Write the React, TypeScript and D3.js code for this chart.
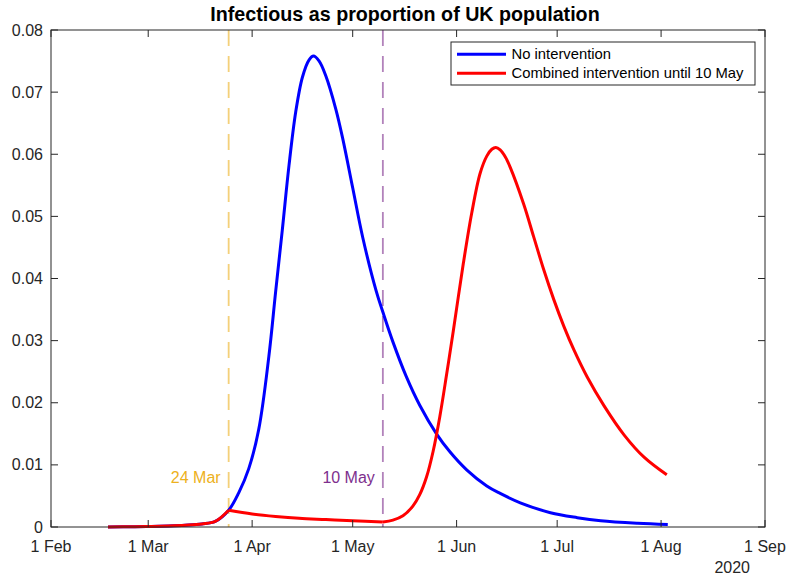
import React from "react";
import * as d3 from "d3";

// days since 1 Feb 2020 and proportion infectious
const blueDays = [17, 25, 30, 35, 40, 45, 49, 53, 56, 59, 62, 65, 67, 69, 71, 73, 75, 77, 78.3, 80, 82, 85, 87, 90, 93, 97, 99, 102, 106, 110, 115, 119, 124, 130, 134, 140, 149, 157, 164, 175, 184];
const blueVals = [0.00002, 0.00005, 0.0001, 0.00018, 0.0003, 0.0005, 0.0009, 0.0027, 0.0055, 0.0094, 0.0158, 0.0275, 0.0378, 0.0478, 0.0582, 0.0668, 0.0724, 0.0752, 0.0758, 0.0750, 0.0726, 0.0672, 0.0626, 0.0546, 0.0466, 0.0380, 0.0346, 0.0298, 0.0242, 0.0196, 0.0150, 0.0121, 0.0092, 0.0066, 0.0054, 0.0039, 0.0023, 0.0015, 0.0010, 0.0006, 0.0004];

const redPreDays = [17, 25, 30, 35, 40, 45, 49, 53];
const redPreVals = [0.00002, 0.00005, 0.0001, 0.00018, 0.0003, 0.0005, 0.0009, 0.0027];
const redDuringDays = [53, 60, 67, 74, 82, 90, 99];
const redDuringVals = [0.0027, 0.0021, 0.0017, 0.0014, 0.0012, 0.0010, 0.0008];
const redPostDays = [99, 102, 105, 108, 110, 112, 114, 116, 118, 120, 123, 125.5, 128, 130, 131.5, 132.7, 134, 135.5, 137, 141, 144, 147, 150, 153, 156, 160, 165, 171, 177, 183.7];
const redPostVals = [0.0008, 0.0011, 0.0018, 0.0034, 0.0052, 0.0080, 0.0122, 0.0178, 0.0245, 0.0315, 0.0424, 0.0505, 0.0569, 0.0597, 0.0608, 0.0611, 0.0607, 0.0596, 0.0579, 0.0520, 0.0467, 0.0414, 0.0366, 0.0323, 0.0285, 0.0241, 0.0195, 0.0148, 0.0112, 0.0084];

const xTickDates = ["2020-02-01", "2020-03-01", "2020-04-01", "2020-05-01", "2020-06-01", "2020-07-01", "2020-08-01", "2020-09-01"];
const xTickLabels = ["1 Feb", "1 Mar", "1 Apr", "1 May", "1 Jun", "1 Jul", "1 Aug", "1 Sep"];
const yTicks = [0, 0.01, 0.02, 0.03, 0.04, 0.05, 0.06, 0.07, 0.08];
const yTickLabels = ["0", "0.01", "0.02", "0.03", "0.04", "0.05", "0.06", "0.07", "0.08"];

const markerDays = [53, 99];
const markerLabels = ["24 Mar", "10 May"];
const markerColors = ["#EDB120", "#7E2F8E"];

const seriesNames = ["No intervention", "Combined intervention until 10 May"];
const seriesColors = ["#0000FF", "#FF0000"];

const BASE = Date.UTC(2020, 1, 1);
const toDate = (d: number) => new Date(BASE + d * 864e5);
const parse = (s: string) => new Date(s + "T00:00:00Z");

export default function App() {
  const W = 788, H = 579;
  const L = 51, R = 765, T = 30, B = 527;
  const x = d3.scaleUtc().domain([parse("2020-02-01"), parse("2020-09-01")]).range([L, R]);
  const y = d3.scaleLinear().domain([0, 0.08]).range([B, T]);
  const line = d3
    .line<[number, number]>()
    .x((d) => x(toDate(d[0])))
    .y((d) => y(d[1]))
    .curve(d3.curveCatmullRom.alpha(0.5));
  const zip = (a: number[], b: number[]) => a.map((v, i) => [v, b[i]] as [number, number]);
  const axisColor = "#262626";
  const font = "Liberation Sans, Arial, Helvetica, sans-serif";
  const tickLen = 7;

  return (
    <svg width={W} height={H} style={{ position: "absolute", left: 0, top: 0, background: "#fff" }} fontFamily={font}>
      <rect x={0} y={0} width={W} height={H} fill="#fff" />
      {/* marker lines */}
      {markerDays.map((d, i) => (
        <g key={"m" + i}>
          <line x1={x(toDate(d))} x2={x(toDate(d))} y1={T} y2={B} stroke={markerColors[i]} strokeOpacity={0.6} strokeWidth={1.8} strokeDasharray="16,10" />
          <text x={x(toDate(d)) - 8} y={483} textAnchor="end" fontSize={16} fill={markerColors[i]}>
            {markerLabels[i]}
          </text>
        </g>
      ))}
      {/* curves */}
      <path d={line(zip(blueDays, blueVals)) || ""} fill="none" stroke={seriesColors[0]} strokeWidth={3} />
      <path d={line(zip(redPreDays, redPreVals)) || ""} fill="none" stroke={seriesColors[1]} strokeWidth={3} />
      <path d={line(zip(redDuringDays, redDuringVals)) || ""} fill="none" stroke={seriesColors[1]} strokeWidth={3} />
      <path d={line(zip(redPostDays, redPostVals)) || ""} fill="none" stroke={seriesColors[1]} strokeWidth={3} />
      {/* axes box */}
      <rect x={L} y={T} width={R - L} height={B - T} fill="none" stroke={axisColor} strokeWidth={1} />
      {xTickDates.map((s, i) => {
        const xx = x(parse(s));
        return (
          <g key={"xt" + i}>
            <line x1={xx} x2={xx} y1={B} y2={B - tickLen} stroke={axisColor} />
            <line x1={xx} x2={xx} y1={T} y2={T + tickLen} stroke={axisColor} />
            <text x={xx} y={552} textAnchor="middle" fontSize={16} fill={axisColor}>
              {xTickLabels[i]}
            </text>
          </g>
        );
      })}
      <text x={750} y={573} textAnchor="end" fontSize={16} fill={axisColor}>2020</text>
      {yTicks.map((v, i) => {
        const yy = y(v);
        return (
          <g key={"yt" + i}>
            <line x1={L} x2={L + tickLen} y1={yy} y2={yy} stroke={axisColor} />
            <line x1={R} x2={R - tickLen} y1={yy} y2={yy} stroke={axisColor} />
            <text x={43} y={yy} dy="0.35em" textAnchor="end" fontSize={16} fill={axisColor}>
              {yTickLabels[i]}
            </text>
          </g>
        );
      })}
      {/* title */}
      <text x={405} y={21} textAnchor="middle" fontSize={19.7} fontWeight="bold" fill="#000">
        Infectious as proportion of UK population
      </text>
      {/* legend */}
      <rect x={451} y={42} width={304} height={43} fill="#fff" stroke={axisColor} strokeWidth={1} />
      {seriesNames.map((n, i) => (
        <g key={"lg" + i}>
          <line x1={457} x2={506} y1={54.3 + i * 19} y2={54.3 + i * 19} stroke={seriesColors[i]} strokeWidth={3} />
          <text x={511.5} y={54.3 + i * 19} dy="0.35em" fontSize={14.8} fill="#000">
            {n}
          </text>
        </g>
      ))}
    </svg>
  );
}
